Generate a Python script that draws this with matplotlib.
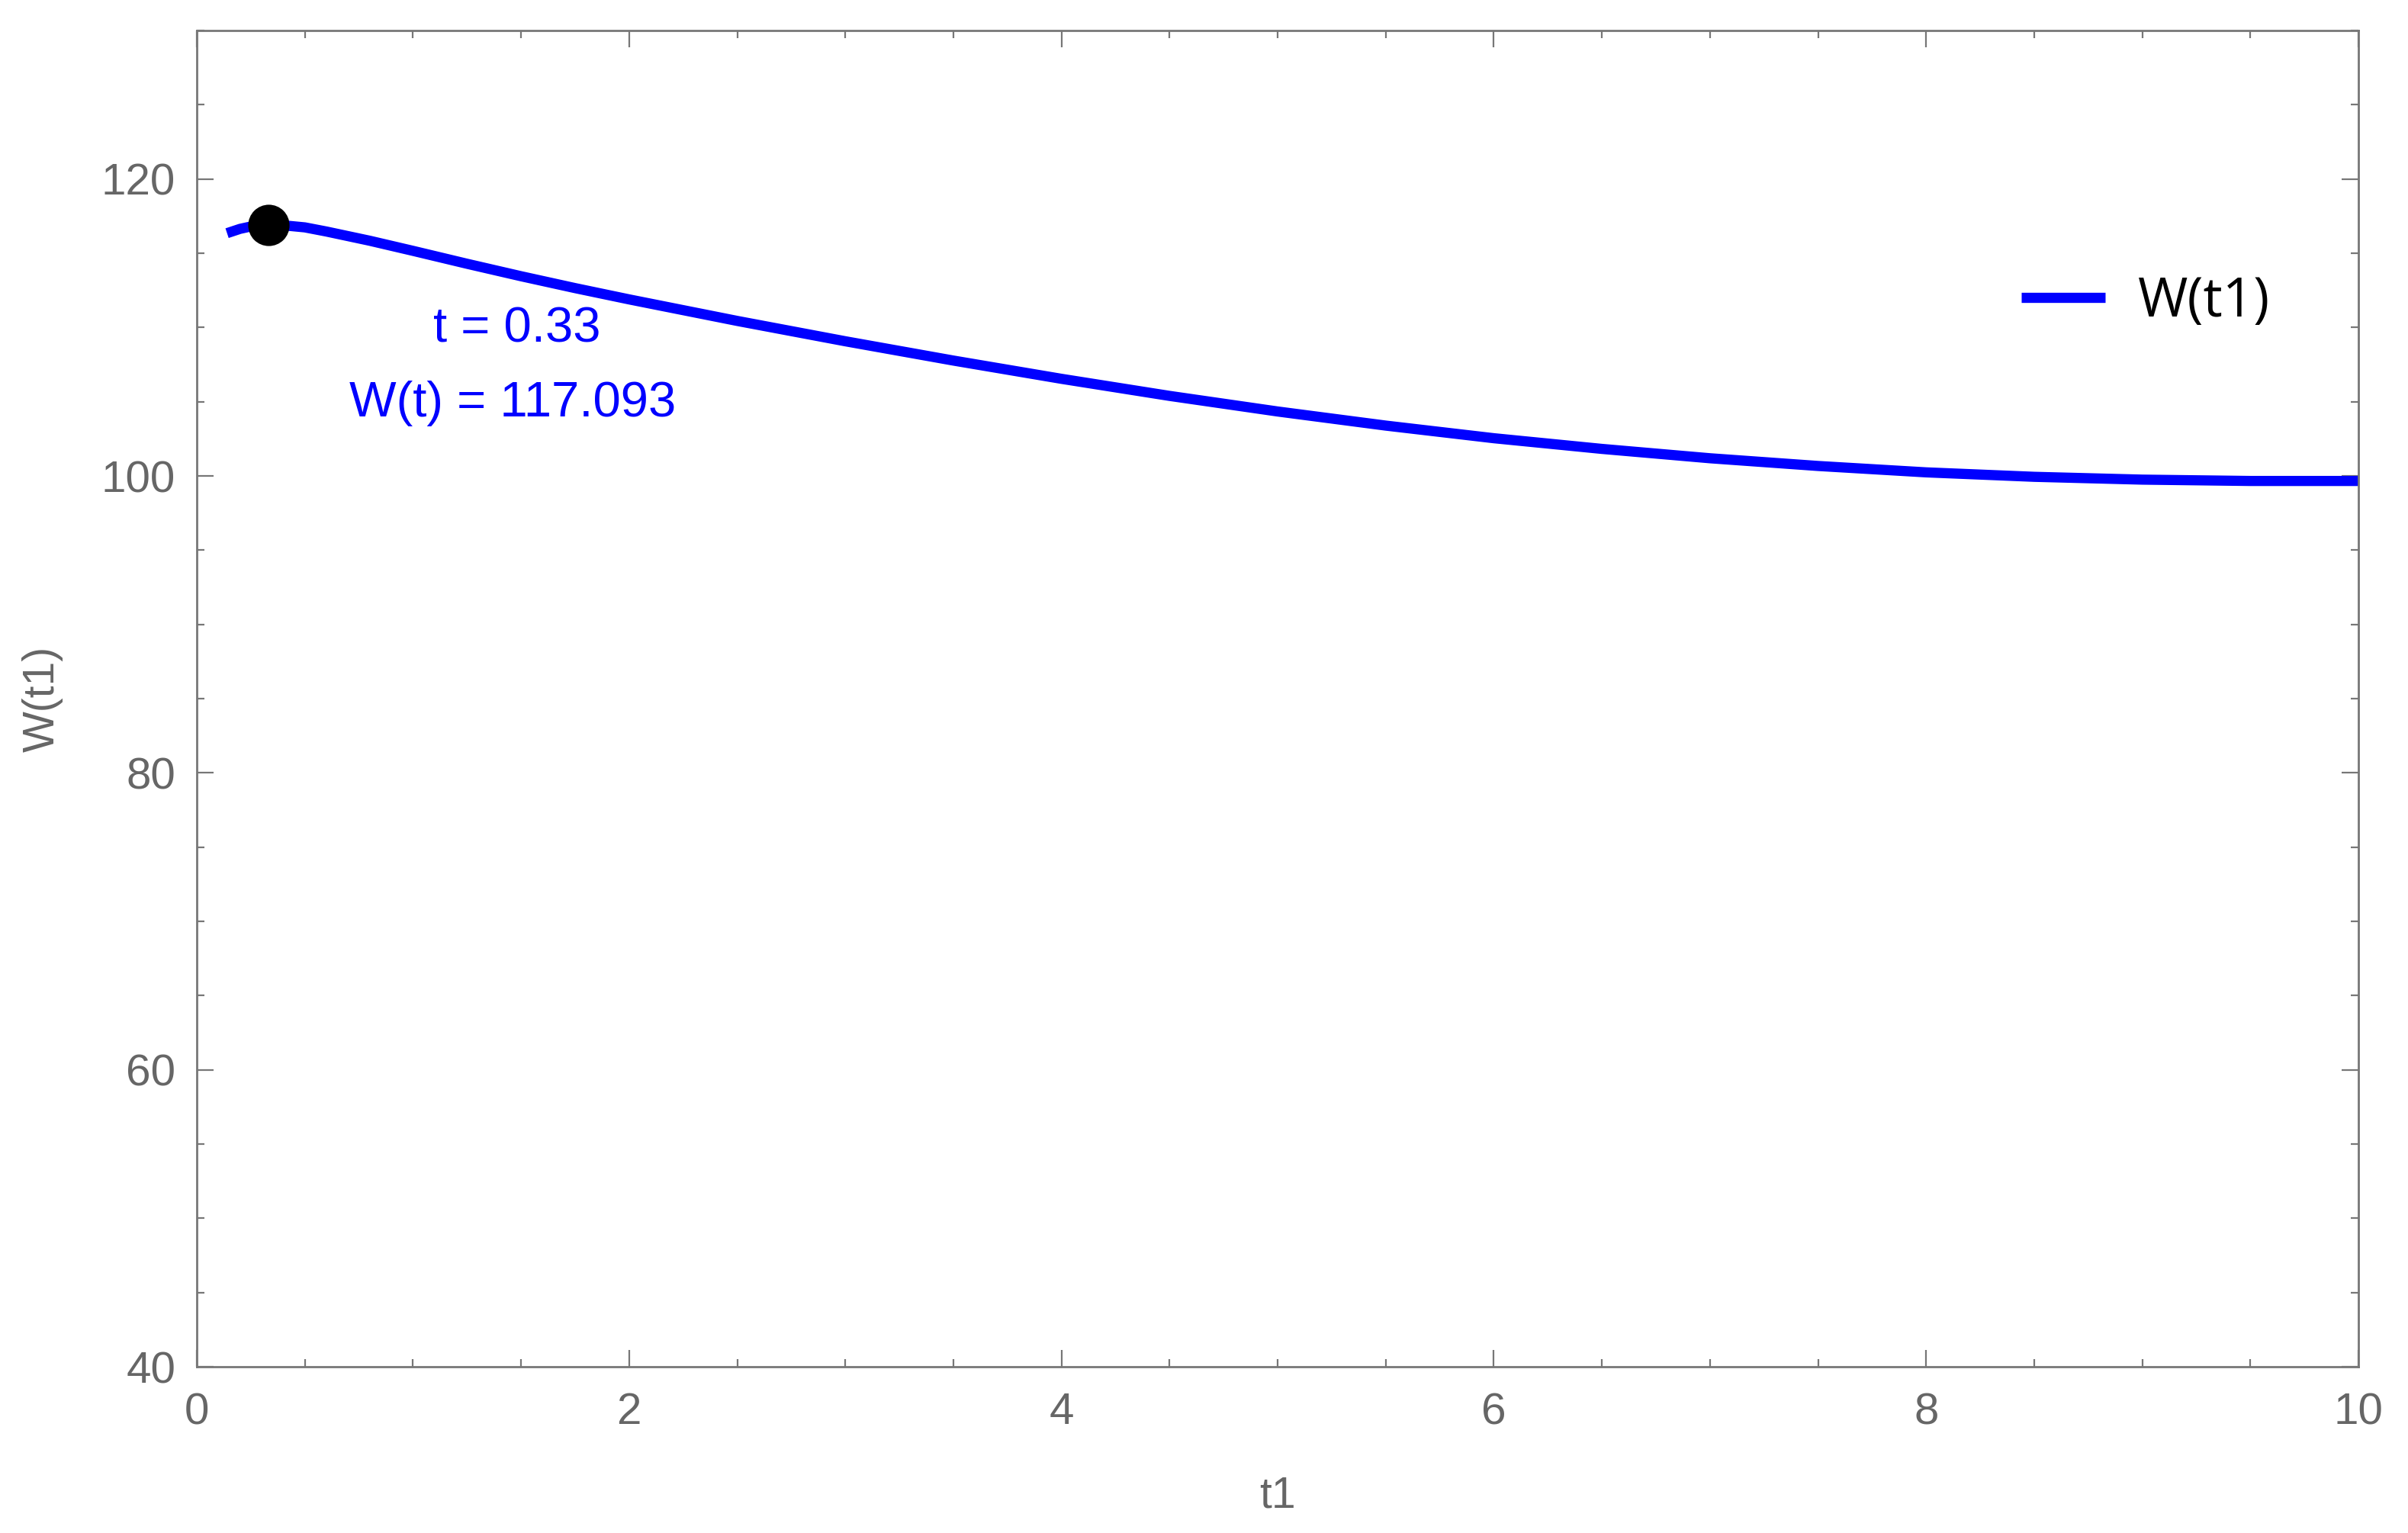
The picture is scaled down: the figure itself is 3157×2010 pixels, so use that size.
"""
W(t1) curve with the marked maximum point.
"""

import matplotlib
matplotlib.use("Agg")
import matplotlib.pyplot as plt
from matplotlib.ticker import MultipleLocator

# -- Data --------------------------------------------------------------------
t_vals = [0.14, 0.20, 0.25, 0.33, 0.40, 0.50, 0.60, 0.70, 0.80, 1.00, 1.25,
          1.50, 1.75, 2.00, 2.50, 3.00, 3.50, 4.00, 4.50, 5.00, 5.50, 6.00,
          6.50, 7.00, 7.50, 8.00, 8.50, 9.00, 9.50, 10.00]
w_vals = [116.35, 116.64, 116.80, 116.90, 116.88, 116.74, 116.46, 116.15,
          115.84, 115.16, 114.29, 113.45, 112.65, 111.89, 110.44, 109.07,
          107.77, 106.54, 105.39, 104.34, 103.39, 102.54, 101.82, 101.19,
          100.67, 100.24, 99.94, 99.75, 99.66, 99.66]

# marked point: label values, and where the dot sits on the drawn curve
peak_t = 0.33
peak_w = 117.093
dot_w = 116.9

x_ticks = [0, 2, 4, 6, 8, 10]
y_ticks = [40, 60, 80, 100, 120]

GRAY = "#666666"
BLUE = "#0000FF"
TICK_FONT = "Liberation Sans"

# -- Plot --------------------------------------------------------------------
fig = plt.figure(figsize=(3157 / 200, 2010 / 200), dpi=200)
ax = fig.add_axes([258 / 3157, 1 - 1792 / 2010,
                   (3092 - 258) / 3157, (1792 - 40) / 2010])

ax.plot(t_vals, w_vals, color=BLUE, lw=4.8, solid_capstyle="butt",
        solid_joinstyle="round", label="W(t1)", zorder=2)
ax.plot([peak_t], [dot_w], "o", color="black", ms=18.5, zorder=3)

ax.text(1.48, 109.9, f"t = {peak_t}", color=BLUE, fontsize=23.5,
        family=TICK_FONT, ha="center", va="center")
ax.text(1.46, 104.9, f"W(t) = {peak_w}", color=BLUE, fontsize=23.5,
        family=TICK_FONT, ha="center", va="center")

ax.set_xlim(0, 10)
ax.set_ylim(40, 130)
ax.set_xticks(x_ticks)
ax.set_yticks(y_ticks)
ax.xaxis.set_minor_locator(MultipleLocator(0.5))
ax.yaxis.set_minor_locator(MultipleLocator(5))

for s in ax.spines.values():
    s.set_color("#777777")
    s.set_linewidth(1.0)

ax.tick_params(which="both", direction="in", top=True, right=True,
               color="#777777", width=0.8, labelcolor=GRAY, labelsize=21)
ax.tick_params(which="major", length=7.8)
ax.tick_params(which="minor", length=3.6)
ax.tick_params(axis="x", pad=12)
ax.tick_params(axis="y", pad=10)
for lab in ax.get_xticklabels() + ax.get_yticklabels():
    lab.set_family(TICK_FONT)

ax.set_xlabel("t1", fontsize=20.5, color=GRAY, family=TICK_FONT, labelpad=20)
ax.set_ylabel("W(t1)", fontsize=20.5, color=GRAY, family=TICK_FONT, labelpad=18)

ax.legend(loc="center left", bbox_to_anchor=(2615 / 3157, 1 - 396 / 2010),
          bbox_transform=fig.transFigure, frameon=False, borderpad=0,
          handlelength=1.55, handletextpad=0.6,
          prop={"family": "Open Sans", "size": 25.5})

fig.savefig("out.png", dpi=200, facecolor="white")
plt.close(fig)
